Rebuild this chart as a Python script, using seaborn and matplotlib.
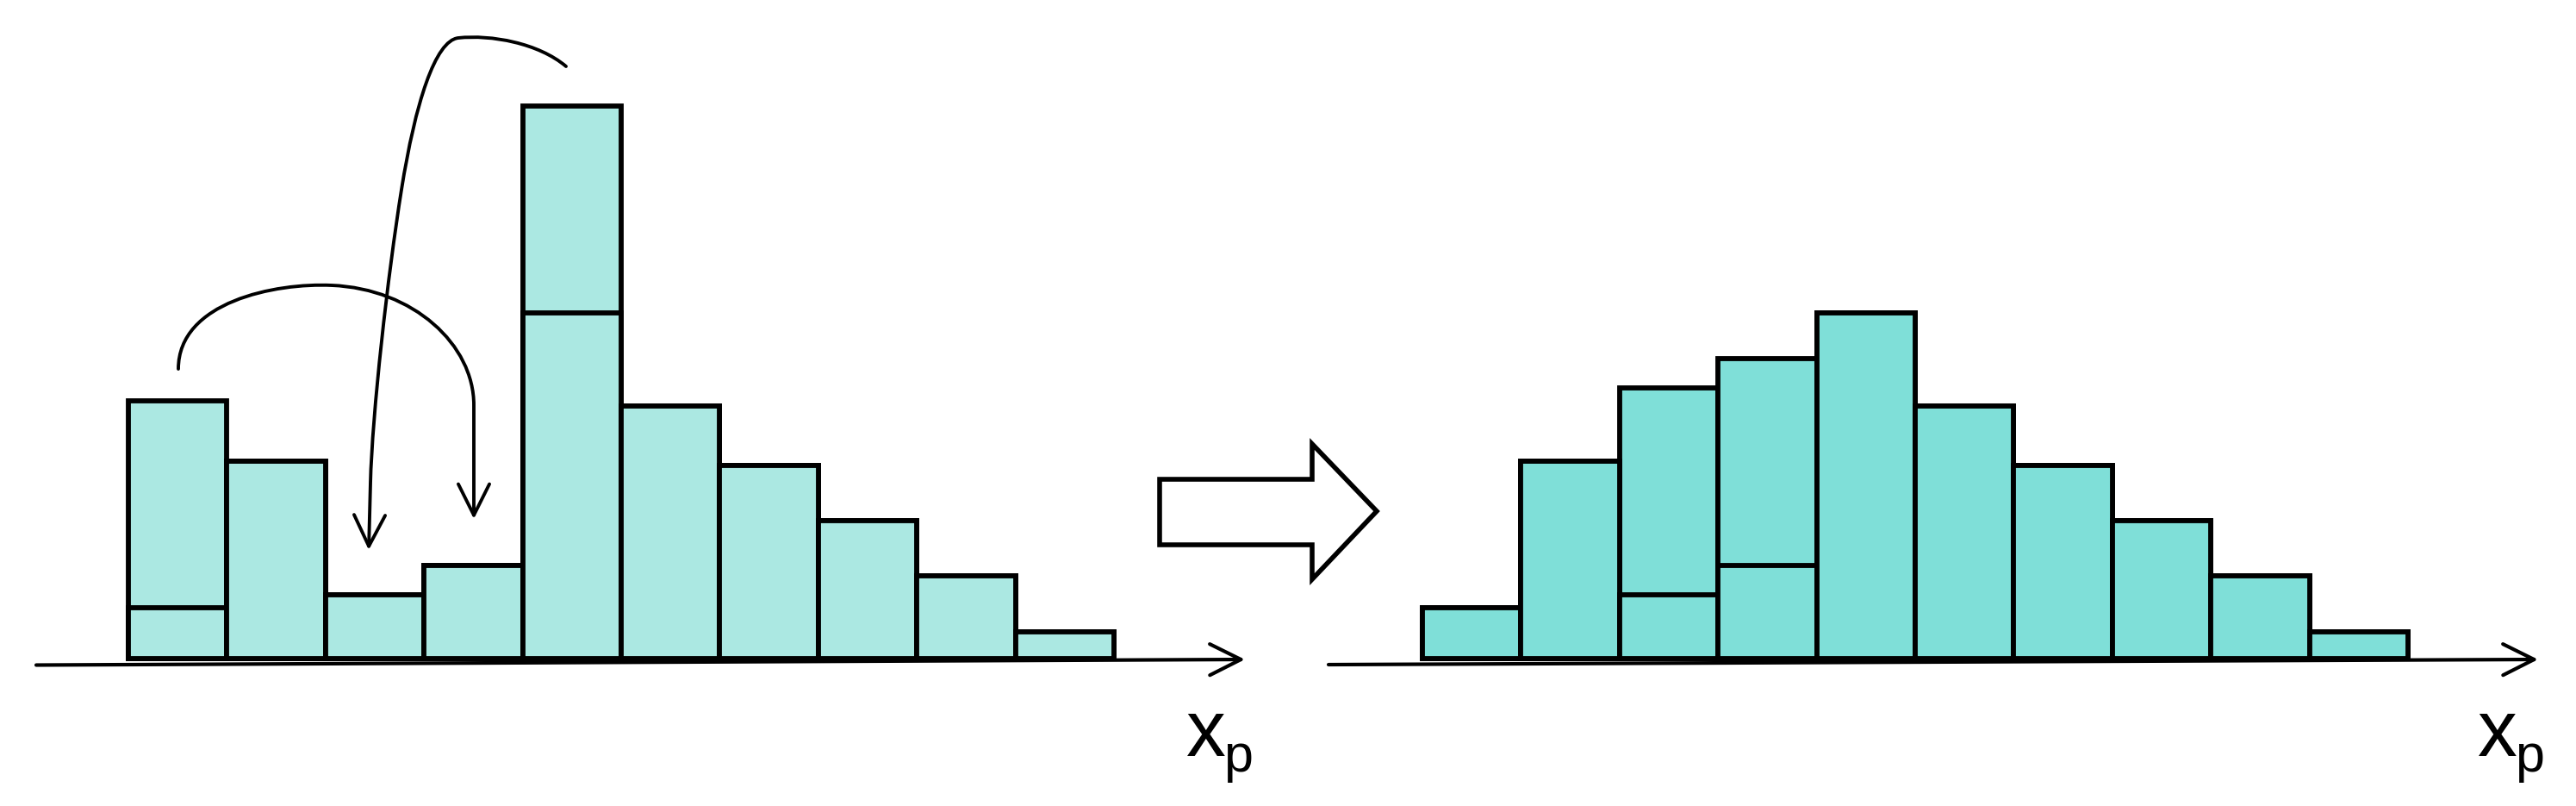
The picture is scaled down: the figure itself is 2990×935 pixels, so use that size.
import numpy as np
import pandas as pd
import seaborn as sns
import matplotlib.pyplot as plt
from matplotlib.patches import FancyArrowPatch, Polygon
from matplotlib.path import Path

# histogram bins along x_p
bins = list(range(1, 11))

# part of every bin that stays in place
stay = [59, 229, 74, 108, 401, 293, 224, 160, 96, 31]
# excess cut from bins 1 and 5 ...
moved_before = [240, 0, 0, 0, 240, 0, 0, 0, 0, 0]
# ... and dropped into bins 3 and 4
moved_after = [0, 0, 240, 240, 0, 0, 0, 0, 0, 0]

color_before = "#ABE8E2"
color_after = "#7FDFD8"
axis_label = ("x", "p")

W, H = 2990, 935
BASE = 764          # pixel row of the baseline
BIN_PX = 114.4      # bar width in pixels

sns.set_style("white")
fig = plt.figure(figsize=(W / 100, H / 100), dpi=100)


def hist_axes(x0, x1, first_edge):
    # axes covering pixels x0..x1, bars start at first_edge
    ax = fig.add_axes([x0 / W, 0, (x1 - x0) / W, 1])
    return ax, (-0.5 - (first_edge - x0) / BIN_PX, -0.5 + (x1 - first_edge) / BIN_PX)


def draw_hist(ax, xlim, extra, color):
    df = pd.DataFrame({"bin": bins, "stay": stay, "total": np.add(stay, extra)})
    for col in ["total", "stay"]:
        sns.barplot(data=df, x="bin", y=col, color=color, saturation=1, width=1,
                    edgecolor="black", linewidth=4.2, errorbar=None, ax=ax)
    ax.set_xlim(*xlim)
    ax.set_ylim(-(H - BASE), BASE)
    ax.set_axis_off()


ax_l, lim_l = hist_axes(0, 1495, 149)
draw_hist(ax_l, lim_l, moved_before, color_before)
ax_r, lim_r = hist_axes(1495, W, 1651)
draw_hist(ax_r, lim_r, moved_after, color_after)

# overlay in pixel coordinates for the sketch decorations
over = fig.add_axes([0, 0, 1, 1])
over.set_axis_off()

head = "->,head_length=26,head_width=13"
for start, end in [((42, 771.5), (1445, 765)), ((1542, 771), (2946, 765))]:
    over.annotate("", xy=end, xytext=start,
                  arrowprops=dict(arrowstyle=head, mutation_scale=1, lw=3.0,
                                  color="black", shrinkA=0, shrinkB=0))

M, C, L = Path.MOVETO, Path.CURVE4, Path.LINETO
arc1 = Path([(207, 428), (207, 350), (320, 328), (385, 331), (480, 335), (550, 400),
             (550, 470), (550, 602)], [M, C, C, C, C, C, C, L])
arc2 = Path([(657, 77), (625, 50), (570, 40), (532, 44), (505, 47), (482, 120),
             (466, 220), (450, 320), (432, 480), (430, 560), (428, 638)],
            [M, C, C, C, C, C, C, C, C, C, L])
for p in [arc1, arc2]:
    over.add_patch(FancyArrowPatch(path=p, arrowstyle=head, mutation_scale=1,
                                   lw=2.8, color="black", transform=over.transData))

# big hollow arrow between the panels
over.add_patch(Polygon([(1346, 556), (1523, 556), (1523, 515), (1598, 593),
                        (1523, 672), (1523, 632), (1346, 632)],
                       closed=True, facecolor="white", edgecolor="black",
                       lw=4.0, joinstyle="miter"))

for xx in [1377, 2876]:
    over.text(xx, 877, axis_label[0], fontsize=66, family="Liberation Sans",
              color="black", ha="left", va="baseline")
    over.text(xx + 43, 895, axis_label[1], fontsize=44, family="Liberation Sans",
              color="black", ha="left", va="baseline")

over.set_xlim(0, W)
over.set_ylim(H, 0)

fig.savefig("out.png", dpi=100, facecolor="white")
